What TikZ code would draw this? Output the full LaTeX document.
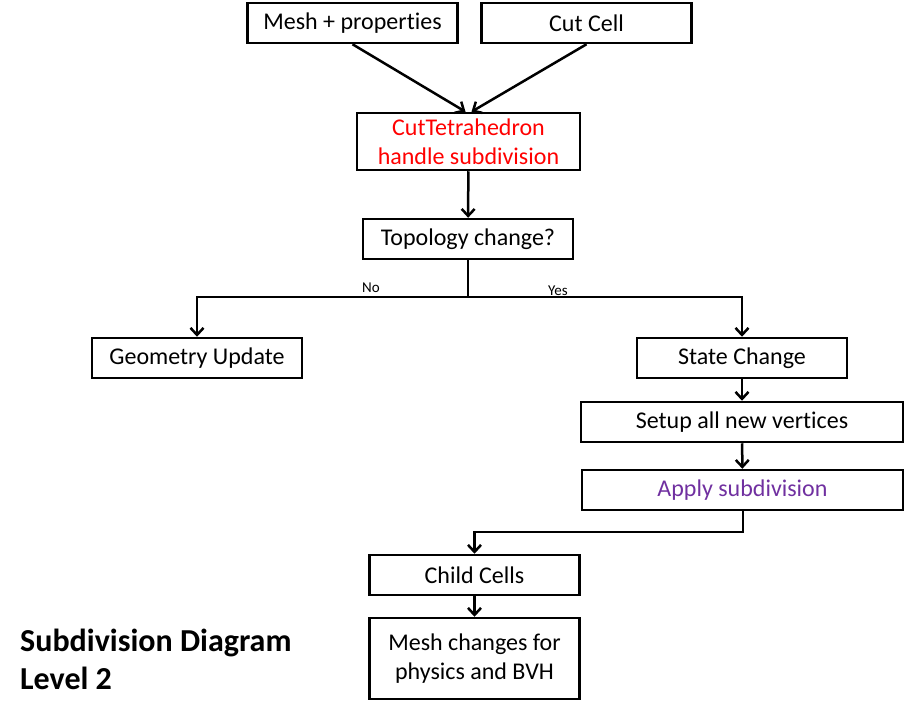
\documentclass[tikz,border=0pt]{standalone}
\usepackage{fontspec}
\setmainfont[Ligatures=NoCommon]{Carlito}
\usetikzlibrary{arrows.meta}
\definecolor{cutred}{RGB}{255,0,0}
\definecolor{applypurple}{RGB}{112,48,160}
\tikzset{
  box/.style={draw, line width=2.5pt, minimum width=210pt, minimum height=40pt, inner sep=0pt, align=center, font=\fontsize{24}{29}\selectfont},
  flow/.style={line width=2.5pt, -{Straight Barb[length=7pt,width=13pt,line width=2.5pt]}},
  lbl/.style={font=\fontsize{15}{17}\selectfont}
}
\begin{document}
\begin{tikzpicture}[x=1pt,y=-1pt]
                \useasboundingbox (0,0) rectangle (905,717);

                \node[box] (mesh) at (352.5,23) {Mesh + properties};

                \node[box] (cut) at (586.5,23) {Cut Cell};

                \node[box, minimum width=223pt, minimum height=57pt, text=cutred] (tet) at (468.5,141.5) {CutTetrahedron\\handle subdivision};

                \node[box] (topo) at (468,239) {Topology change?};

                \node[box] (geo) at (197,358) {Geometry Update};

                \node[box] (state) at (742,358) {State Change};

                \node[box, minimum width=322pt] (setup) at (742,422) {Setup all new vertices};

                \node[box, minimum width=321pt, text=applypurple] (apply) at (742.5,490) {Apply subdivision};

                \node[box] (child) at (474.5,575) {Child Cells};

                \node[box, minimum height=81pt] (meshchg) at (474.5,658.5) {Mesh changes for\\physics and BVH};

                \node[align=left, anchor=west, inner sep=0pt, font=\fontsize{32}{38}\selectfont\bfseries] (title) at (20,659) {Subdivision Diagram\\Level 2};

                \draw[flow] (mesh.south) -- ([xshift=-3pt]tet.north);

                \draw[flow] (cut.south) -- ([xshift=3pt]tet.north);

                \draw[flow] (tet) -- (topo);

                \coordinate (split) at (468,297);

                \draw[line width=2.5pt] (topo) -- (split);

                \draw[flow] (split) -| (geo.north);

                \draw[flow] (split) -| (state.north);

                \node[lbl] (no) at (371,288) {No};

                \node[lbl] (yes) at (558,291) {Yes};

                \draw[flow] (state) -- (setup);

                \draw[flow] (setup) -- (apply);

                \coordinate (turn) at (743,532);

                \draw[flow] (apply.south -| turn) -- (turn) -| (child.north);

                \draw[flow] (child) -- (meshchg);
\end{tikzpicture}
\end{document}
